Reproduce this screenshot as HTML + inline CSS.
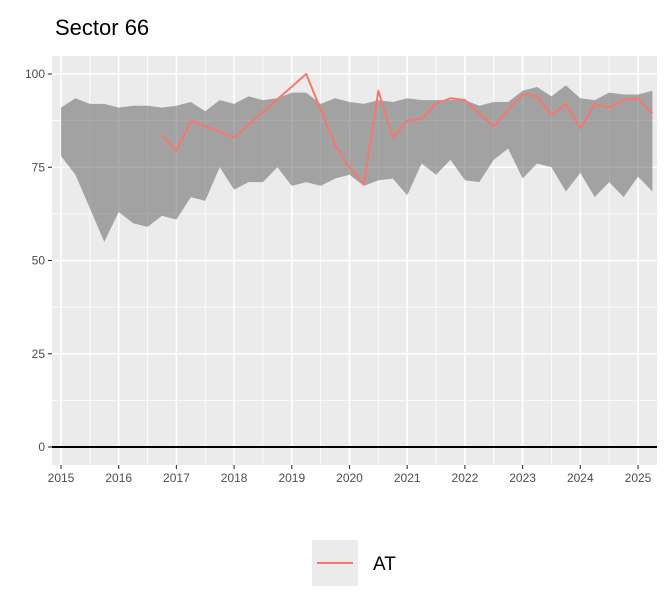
<!DOCTYPE html>
<html><head><meta charset="utf-8"><style>body{margin:0;background:#fff}svg{display:block;font-family:"Liberation Sans",sans-serif}</style></head>
<body>
<svg id="c" width="672" height="614">
<text x="55" y="35" font-size="22" fill="#000">Sector 66</text>
<rect x="52" y="56" width="605" height="409" fill="#ebebeb"/>
<g id="grid"></g><g id="marks"></g><g id="axes"></g>
<g>
<rect x="312" y="540" width="46" height="46" fill="#ebebeb"/>
<line x1="317" y1="563" x2="353" y2="563" stroke="#f8766d" stroke-width="2"/>
<text x="373" y="570" font-size="19" fill="#000">AT</text>
</g>
</svg>
<script>
const ribbonDates=[];for(let i=0;i<42;i++)ribbonDates.push(2015+i*0.25);
const upperVals=[91,93.5,92,92,91,91.5,91.5,91,91.5,92.5,90,93,92,94,93,93.5,95,95,92,93.5,92.5,92,93,92.5,93.5,93,93,93,93,91.5,92.5,92.5,95.5,96.5,94,97,93.5,93,95,94.5,94.5,95.5];
const lowerVals=[78,73,64,55,63,60,59,62,61,67,66,75,69,71,71,75,70,71,70,72,73,70,71.5,72,67.5,76,73,77,71.5,71,77,80,72,76,75,68.5,73.5,67,71,67,72.5,68.5];
const lineDates=[2016.75,2017,2017.25,2018,2019.25,2019.75,2020,2020.25,2020.5,2020.75,2021,2021.25,2021.5,2021.75,2022,2022.5,2022.75,2023,2023.25,2023.5,2023.75,2024,2024.25,2024.5,2024.75,2025,2025.25];
const lineVals=[83.5,79.5,87.5,83,100,81,75,70.5,95.5,83,87.5,88,92,93.5,93,86,90.5,94.5,94,89,92,85.5,92,91,93,93.5,89.5];
const xTicks=[2015,2016,2017,2018,2019,2020,2021,2022,2023,2024,2025];
const yTicks=[0,25,50,75,100];
const X=d=>61+(d-2015)*57.7, Y=v=>447-v*3.73;
const NS="http://www.w3.org/2000/svg";
function mk(p,t,a){const e=document.createElementNS(NS,t);for(const k in a)e.setAttribute(k,a[k]);document.getElementById(p).appendChild(e);return e;}
for(let v=-12.5;v<=112.5;v+=12.5){const y=Y(v);if(y<56||y>465)continue;const major=v%25===0;
const g=mk('grid','line',{x1:52,x2:657,y1:y,y2:y,stroke:'#fff','stroke-width':major?1.6:0.8});

}
for(let d=2014.5;d<=2025.5;d+=0.5){const x=X(d);if(x<52||x>657)continue;const major=d%1===0;
const g=mk('grid','line',{x1:x,x2:x,y1:56,y2:465,stroke:'#fff','stroke-width':major?1.6:0.8});

}
let pts=ribbonDates.map((d,i)=>X(d)+','+Y(upperVals[i]));
for(let i=ribbonDates.length-1;i>=0;i--)pts.push(X(ribbonDates[i])+','+Y(lowerVals[i]));
const rb=mk('marks','polygon',{points:pts.join(' '),fill:'#595959','fill-opacity':0.5});


const zl=mk('marks','line',{x1:52,x2:657,y1:Y(0),y2:Y(0),stroke:'#000','stroke-width':2});


const ln=mk('marks','polyline',{points:lineDates.map((d,i)=>X(d)+','+Y(lineVals[i])).join(' '),fill:'none',stroke:'#f8766d','stroke-width':2,'stroke-linejoin':'round'});


yTicks.forEach(v=>{const y=Y(v);
const t=mk('axes','line',{x1:48,x2:52,y1:y,y2:y,stroke:'#333','stroke-width':1.1});


const l=mk('axes','text',{x:45,y:y+4,'text-anchor':'end','font-size':12,fill:'#4d4d4d'});l.textContent=v;

});
xTicks.forEach(d=>{const x=X(d);
const t=mk('axes','line',{x1:x,x2:x,y1:465,y2:469,stroke:'#333','stroke-width':1.1});


const l=mk('axes','text',{x:x,y:482,'text-anchor':'middle','font-size':12,fill:'#4d4d4d'});l.textContent=d;

});
</script>
</body></html>
